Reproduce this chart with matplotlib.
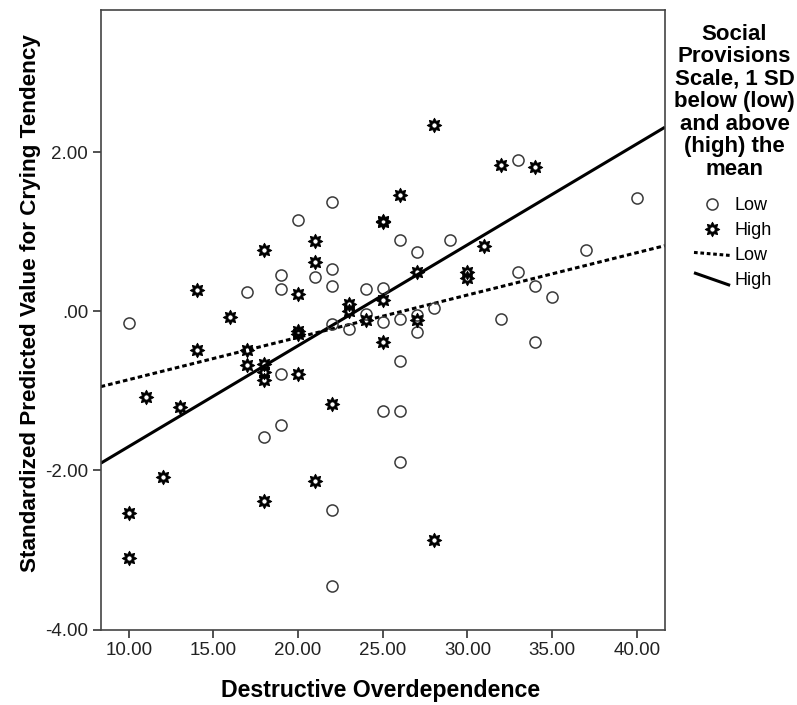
import numpy as np
import matplotlib
matplotlib.use("Agg")
import matplotlib.pyplot as plt
from matplotlib.path import Path
from matplotlib.lines import Line2D
from matplotlib.legend_handler import HandlerBase

plt.rcParams['font.family'] = ['Liberation Sans', 'DejaVu Sans']

# ---------------- data ----------------
low_x = [10, 17, 18, 19, 19, 19, 19, 20, 21, 22, 22, 22, 22, 22, 22, 23,
         24, 24, 25, 25, 25, 26, 26, 26, 26, 26, 27, 27, 27, 28, 29, 32,
         33, 33, 34, 34, 35, 37, 40]
low_y = [-0.15, 0.25, -1.58, 0.46, 0.28, -0.79, -1.43, 1.15, 0.43, 1.38, 0.53, 0.32, -0.16, -2.50, -3.45, -0.22,
         0.28, -0.03, 0.30, -0.13, -1.25, 0.90, -0.09, -0.62, -1.25, -1.89, 0.75, -0.04, -0.26, 0.04, 0.90, -0.09,
         1.91, 0.50, 0.32, -0.39, 0.18, 0.77, 1.42]

high_x = [10, 10, 11, 12, 13, 14, 14, 16, 17, 17, 18, 18, 18, 18, 18,
          20, 20, 20, 20, 21, 21, 21, 22, 23, 23, 24, 25, 25, 25, 25,
          26, 27, 27, 28, 28, 30, 30, 31, 32, 34]
high_y = [-2.53, -3.10, -1.08, -2.08, -1.20, 0.27, -0.48, -0.07, -0.49, -0.67, 0.77, -0.66, -0.76, -0.86, -2.39,
          0.22, -0.25, -0.28, -0.79, 0.88, 0.62, -2.13, -1.16, 0.09, 0.00, -0.11, 1.14, 1.12, 0.14, -0.39,
          1.46, 0.49, -0.11, 2.34, -2.87, 0.50, 0.42, 0.82, 1.84, 1.81]

# fit lines (intercept, slope)
low_fit_intercept, low_fit_slope = -1.390, 0.0532
high_fit_intercept, high_fit_slope = -2.967, 0.1268

x_ticks = [10, 15, 20, 25, 30, 35, 40]
x_tick_labels = ["10.00", "15.00", "20.00", "25.00", "30.00", "35.00", "40.00"]
y_ticks = [-4, -2, 0, 2]
y_tick_labels = ["-4.00", "-2.00", ".00", "2.00"]

x_label = "Destructive Overdependence"
y_label = "Standardized Predicted Value for Crying Tendency"
legend_title = "Social\nProvisions\nScale, 1 SD\nbelow (low)\nand above\n(high) the\nmean"
legend_labels = ["Low", "High", "Low", "High"]

# ---------------- markers ----------------
def star_marker():
    n = 8
    angs = np.arange(2 * n) * np.pi / n + np.pi / 2
    r = np.where(np.arange(2 * n) % 2 == 0, 1.0, 0.62)
    outer = np.column_stack([r * np.cos(angs), r * np.sin(angs)])
    t = np.linspace(0, 2 * np.pi, 25)[:-1][::-1]
    hole = np.column_stack([0.36 * np.cos(t), 0.36 * np.sin(t)])
    verts = np.vstack([outer, outer[:1], hole, hole[:1]])
    codes = ([Path.MOVETO] + [Path.LINETO] * (len(outer) - 1) + [Path.CLOSEPOLY]
             + [Path.MOVETO] + [Path.LINETO] * (len(hole) - 1) + [Path.CLOSEPOLY])
    return Path(verts, codes)

STAR = star_marker()
circ_kw = dict(marker='o', ls='none', ms=8.0, mfc='none', mec='#3a3a3a', mew=1.1)
star_kw = dict(marker=STAR, ls='none', ms=10.5, mfc='black', mec='black', mew=0.6)

# ---------------- figure ----------------
fig = plt.figure(figsize=(7.97, 7.05), dpi=100)
ax = fig.add_axes([100.7 / 797, (705 - 629.5) / 705, (665 - 100.7) / 797, (629.5 - 10) / 705])
ax.set_xlim(8.34, 41.67)
ax.set_ylim(-4.0, 3.79)

xs = np.array(ax.get_xlim())
ax.plot(xs, low_fit_intercept + low_fit_slope * xs, color='black', lw=2.2,
        ls=(0, (1.5, 1.0)), dash_capstyle='butt', zorder=2)
ax.plot(xs, high_fit_intercept + high_fit_slope * xs, color='black', lw=2.2,
        solid_capstyle='butt', zorder=2)

ax.plot(low_x, low_y, zorder=3, **circ_kw)
ax.plot(high_x, high_y, zorder=4, **star_kw)

ax.set_xticks(x_ticks)
ax.set_xticklabels(x_tick_labels)
ax.set_yticks(y_ticks)
ax.set_yticklabels(y_tick_labels)
ax.tick_params(direction='out', length=6, width=1.2, color='#333333',
               labelsize=13.5, labelcolor='#222222', pad=3)
for s in ax.spines.values():
    s.set_color('#444444')
    s.set_linewidth(1.2)

ax.set_xlabel(x_label, fontsize=16.7, fontweight='bold')
ax.xaxis.label.set_va('center')
ax.xaxis.set_label_coords((381 - 100.7) / 564.3, (629.5 - 690) / 619.5)
ax.set_ylabel(y_label, fontsize=16.2, fontweight='bold')
ax.yaxis.label.set_va('center')
ax.yaxis.set_label_coords((31 - 100.7) / 564.3, (629.5 - 303) / 619.5)

# ---------------- legend ----------------
class DiagLine(HandlerBase):
    def __init__(self, rise):
        super().__init__()
        self.rise = rise

    def create_artists(self, legend, orig_handle, xdescent, ydescent,
                       width, height, fontsize, trans):
        cy = height / 2 - ydescent
        line = Line2D([-xdescent, -xdescent + width],
                      [cy + self.rise * height, cy - self.rise * height])
        self.update_prop(line, orig_handle, legend)
        line.set_transform(trans)
        return [line]

h_low_pt = Line2D([], [], **circ_kw)
h_high_pt = Line2D([], [], **star_kw)
h_low_ln = Line2D([], [], color='black', lw=2.2, ls=(0, (1.2, 0.9)), dash_capstyle='butt')
h_high_ln = Line2D([], [], color='black', lw=2.2, solid_capstyle='butt')

fig.text(734.5 / 797, 1 - 24 / 705, legend_title, ha='center', va='top',
         fontsize=16, fontweight='bold', linespacing=1.09, multialignment='center')

fig.legend([h_low_pt, h_high_pt, h_low_ln, h_high_ln], legend_labels,
           loc='upper left', bbox_to_anchor=(694 / 797, 1 - 197 / 705),
           frameon=False, fontsize=13, handlelength=2.0, handletextpad=0.25,
           labelspacing=0.45, borderpad=0, borderaxespad=0,
           handler_map={h_low_ln: DiagLine(0.12), h_high_ln: DiagLine(0.5)})

fig.savefig("out.png", dpi=100)
